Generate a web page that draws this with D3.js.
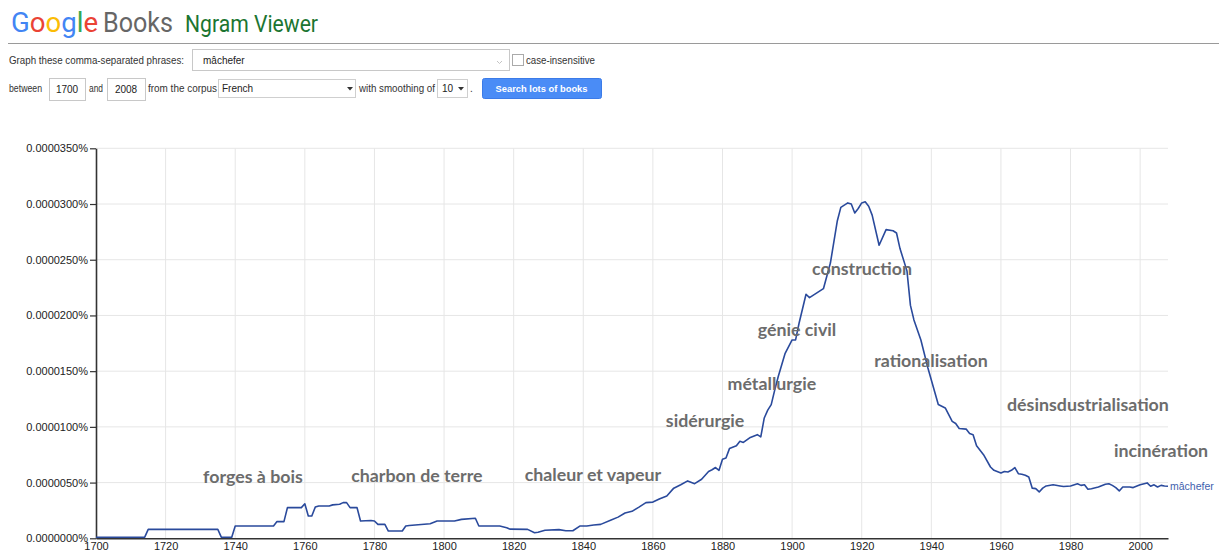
<!DOCTYPE html>
<html><head><meta charset="utf-8">
<script src="https://cdn.jsdelivr.net/npm/d3@7"></script>
<style>
html,body{margin:0;padding:0;background:#fff;}
svg{display:block;}
</style></head>
<body>
<svg id="chart" width="1219" height="557"></svg>
<script>
// ---- data ----
const phrase = "mâchefer";
const yearStart = 1700, yearEnd = 2008;
// frequency in millionths of a percent (value × 0.000001 %)
const years = [1700,1714,1715,1735,1736,1739,1740,1751,1752,1754,1755,1759,1760,1761,1762,1763,1764,1767,1768,1770,1771,1772,1773,1775,1776,1779,1780,1781,1783,1784,1788,1789,1790,1796,1798,1803,1805,1809,1810,1816,1818,1819,1824,1826,1827,1829,1833,1835,1837,1839,1841,1843,1845,1848,1850,1852,1854,1856,1858,1860,1862,1864,1866,1868,1870,1872,1874,1876,1877,1878,1879,1880,1881,1882,1884,1885,1886,1888,1890,1891,1892,1893,1894,1895,1896,1898,1900,1901,1902,1904,1905,1907,1909,1911,1913,1914,1916,1917,1918,1919,1920,1921,1922,1923,1925,1927,1929,1930,1931,1933,1934,1935,1937,1939,1941,1942,1944,1946,1947,1948,1950,1951,1952,1953,1955,1957,1958,1960,1961,1962,1963,1964,1965,1966,1967,1968,1969,1970,1971,1972,1973,1975,1977,1978,1980,1982,1983,1984,1985,1986,1988,1990,1991,1992,1993,1994,1995,1997,1998,2000,2002,2003,2004,2005,2006,2007,2008];
const values = [0.1,0.1,0.8,0.8,0.1,0.1,1.1,1.1,1.5,1.5,2.75,2.75,3.1,2.0,2.0,2.8,2.9,2.9,3.0,3.05,3.2,3.2,2.75,2.75,1.55,1.6,1.55,1.25,1.25,0.65,0.65,1.1,1.15,1.3,1.55,1.55,1.7,1.8,1.1,1.1,0.95,0.82,0.8,0.5,0.55,0.72,0.78,0.68,0.68,1.1,1.1,1.2,1.25,1.65,1.9,2.27,2.42,2.8,3.2,3.25,3.55,3.8,4.5,4.8,5.15,4.9,5.3,6.0,6.15,6.35,6.1,7.1,7.2,8.05,8.3,8.7,8.6,9.05,9.3,9.1,10.8,11.5,12.0,13.3,14.5,16.6,17.8,17.8,19.3,21.9,21.6,22.0,22.4,24.7,28.5,29.7,30.1,30.0,29.2,29.6,30.1,30.2,29.8,29.0,26.3,27.7,27.6,27.4,26.0,24.0,20.9,19.6,17.8,15.3,13.1,12.0,11.7,10.5,10.3,9.85,9.8,9.4,9.3,8.3,7.5,6.4,6.1,5.86,6.0,5.95,6.1,6.35,5.8,5.75,5.65,5.5,4.5,4.46,4.16,4.5,4.7,4.8,4.7,4.65,4.7,4.9,4.75,4.8,4.4,4.45,4.6,4.85,4.9,4.75,4.55,4.25,4.6,4.6,4.55,4.8,4.97,4.67,4.8,4.6,4.75,4.7,4.67];
const xTicks = [1700,1720,1740,1760,1780,1800,1820,1840,1860,1880,1900,1920,1940,1960,1980,2000];
const yTicks = [0,5,10,15,20,25,30,35];
// annotations: text, anchor year, anchor value
const annoTexts = ["forges à bois","charbon de terre","chaleur et vapeur","sidérurgie","métallurgie","génie civil","construction","rationalisation","désinsdustrialisation","incinération"];
const annoYears = [1745.1,1792.2,1842.8,1875.0,1894.2,1901.4,1920.1,1939.9,1985.0,2006.0];
const annoValues = [5.5,5.6,5.68,10.53,13.85,18.7,24.2,15.9,12.0,7.84];

// ---- layout ----
const svg = d3.select("#chart");
const x = d3.scaleLinear().domain([yearStart, yearEnd]).range([96, 1168]);
const y = d3.scaleLinear().domain([0, 35]).range([538.3, 148.3]);
const fmt = v => (v * 1e-6).toFixed(7) + "%";

// ---- header ----
const head = svg.append("g");
const gLetters = [["G","#4285f4"],["o","#ea4335"],["o","#fbbc05"],["g","#4285f4"],["l","#34a853"],["e","#ea4335"]];
const gt = head.append("text").attr("x", 11).attr("y", 32)
  .attr("font-family","Roboto, 'Open Sans', sans-serif").attr("font-size", 28)
  .attr("textLength", 87).attr("lengthAdjust","spacingAndGlyphs");
gLetters.forEach(([c,col]) => gt.append("tspan").attr("fill", col).text(c));
head.append("text").attr("x",103).attr("y",32).attr("font-family","Roboto, sans-serif")
  .attr("font-size",28).attr("fill","#666").attr("textLength",70).attr("lengthAdjust","spacingAndGlyphs").text("Books");
head.append("text").attr("x",185).attr("y",32).attr("font-family","Roboto, Arial, sans-serif")
  .attr("font-size",23).attr("fill","#1b7531").attr("textLength",133).attr("lengthAdjust","spacingAndGlyphs").text("Ngram Viewer");
head.append("line").attr("x1",8).attr("x2",1219).attr("y1",43.5).attr("y2",43.5).attr("stroke","#9a9a9a");

const formFont = "'Liberation Sans', Arial, sans-serif";
function ftext(tx, tyy, s, opts={}) {
  const t = head.append("text").attr("x",tx).attr("y",tyy).attr("font-family",formFont)
    .attr("font-size",opts.size||10).attr("fill",opts.fill||"#333").text(s);
  if (opts.anchor) t.attr("text-anchor",opts.anchor);
  if (opts.weight) t.attr("font-weight",opts.weight);
  if (opts.len) t.attr("textLength",opts.len).attr("lengthAdjust","spacingAndGlyphs");
  return t;
}
function box(bx, by, w, h, stroke="#c8c8c8") {
  head.append("rect").attr("x",bx+0.5).attr("y",by+0.5).attr("width",w).attr("height",h)
    .attr("fill","#fff").attr("stroke",stroke);
}
ftext(9, 63.5, "Graph these comma-separated phrases:", {len:175});
box(192, 49, 317, 21);
ftext(203, 64, phrase, {fill:"#222"});
head.append("path").attr("d","M497,61 l2.5,2.5 l2.5,-2.5").attr("fill","none").attr("stroke","#c4c4c4");
box(512, 54, 11, 11, "#aaa");
ftext(526, 63.5, "case-insensitive", {len:69});

ftext(9, 92, "between", {len:33});
box(49, 78, 36, 22);
ftext(67, 93, String(yearStart), {anchor:"middle", fill:"#222"});
ftext(89, 92, "and", {len:14});
box(107, 78, 38, 22);
ftext(126, 93, String(yearEnd), {anchor:"middle", fill:"#222"});
ftext(148, 92, "from the corpus", {len:69});
box(218, 79, 137, 18, "#cfcfcf");
ftext(222, 92, "French", {fill:"#222"});
head.append("path").attr("d","M347,87 h6 l-3,3.5 z").attr("fill","#333");
ftext(359, 92, "with smoothing of", {len:76});
box(437, 79, 30, 18, "#cfcfcf");
ftext(442, 92, "10", {fill:"#222"});
head.append("path").attr("d","M458,87 h6 l-3,3.5 z").attr("fill","#333");
ftext(470, 92, ".");
head.append("rect").attr("x",482.5).attr("y",78.5).attr("width",119).attr("height",20).attr("rx",2)
  .attr("fill","#4a8cf6").attr("stroke","#3b7be8");
ftext(541.5, 91.5, "Search lots of books", {anchor:"middle", fill:"#fff", size:9.5, weight:"bold", len:92});

// ---- grid ----
const grid = svg.append("g");
grid.selectAll("line.v").data(xTicks.filter(d => d > yearStart)).join("line")
  .attr("x1", d => x(d)).attr("x2", d => x(d)).attr("y1", y(35)).attr("y2", y(0))
  .attr("stroke","#e6e6e6");
grid.selectAll("line.h").data(yTicks.filter(d => d > 0)).join("line")
  .attr("x1", x(yearStart)).attr("x2", x(yearEnd)).attr("y1", d => y(d)).attr("y2", d => y(d))
  .attr("stroke","#e6e6e6");

// ---- axes ----
const axFont = "'Liberation Sans', Arial, sans-serif";
const yAxis = svg.append("g").attr("transform",`translate(${x(yearStart)},0)`)
  .call(d3.axisLeft(y).tickValues(yTicks).tickFormat(fmt).tickSize(6).tickSizeOuter(0).tickPadding(2));
yAxis.select(".domain").attr("stroke","#333").attr("stroke-width",1.6);
yAxis.selectAll(".tick line").attr("stroke","#333").attr("stroke-width",1.2);
yAxis.selectAll("text").attr("font-family",axFont).attr("font-size",11).attr("fill","#222");

const xAxis = svg.append("g").attr("transform",`translate(0,${y(0)})`)
  .call(d3.axisBottom(x).tickValues(xTicks).tickFormat(d3.format("d")).tickSize(0).tickSizeOuter(0).tickPadding(4));
xAxis.select(".domain").attr("stroke","#333").attr("stroke-width",1.6);
xAxis.selectAll("text").attr("font-family",axFont).attr("font-size",11).attr("fill","#222");

// ---- line ----
const pts = years.map((yr, i) => [yr, values[i]]);
svg.append("path").datum(pts)
  .attr("d", d3.line().x(d => x(d[0])).y(d => y(d[1])))
  .attr("fill","none").attr("stroke","#2a4a9c").attr("stroke-width",1.6).attr("stroke-linejoin","round");
svg.append("text").attr("x", x(yearEnd) + 2).attr("y", y(values[values.length-1])).attr("dy","0.35em")
  .attr("font-family",axFont).attr("font-size",10.5).attr("fill","#3f5fae").text(phrase);

// ---- annotations ----
svg.append("g").selectAll("text").data(annoTexts).join("text")
  .attr("x", (d,i) => x(annoYears[i])).attr("y", (d,i) => y(annoValues[i])).attr("dy","0.35em")
  .attr("text-anchor","middle").attr("font-family","Lato, 'Open Sans', sans-serif")
  .attr("font-weight","bold").attr("font-size",17.8).attr("fill","#6c6c6c").text(d => d);
</script>
</body></html>
